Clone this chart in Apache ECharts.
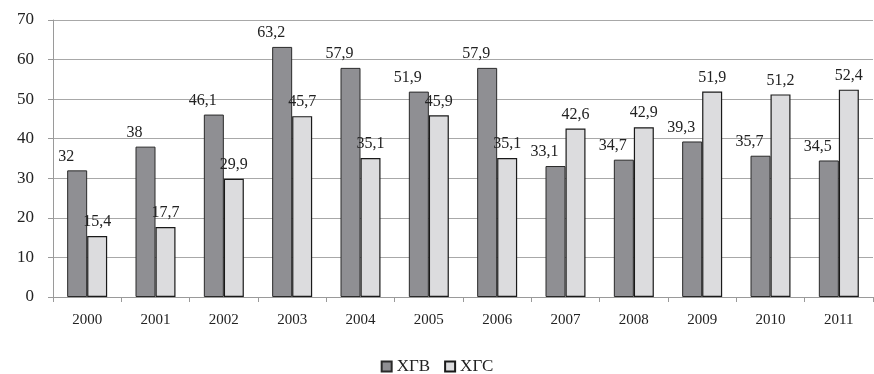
<!DOCTYPE html>
<html>
<head>
<meta charset="utf-8">
<script src="https://cdn.jsdelivr.net/npm/echarts@6/dist/echarts.min.js"></script>
<style>
  html, body { margin: 0; padding: 0; background: #ffffff; }
  #chart { width: 874px; height: 374px; }
</style>
</head>
<body>
<div id="chart"></div>
<script>
// Years on the category axis
const years = ['2000', '2001', '2002', '2003', '2004', '2005', '2006', '2007', '2008', '2009', '2010', '2011'];

// Series names
const nameHGV = 'ХГВ';
const nameHGS = 'ХГС';

// Values per year
const valuesHGV = [32, 38, 46.1, 63.2, 57.9, 51.9, 57.9, 33.1, 34.7, 39.3, 35.7, 34.5];
const valuesHGS = [15.4, 17.7, 29.9, 45.7, 35.1, 45.9, 35.1, 42.6, 42.9, 51.9, 51.2, 52.4];

// Value axis range
const yMin = 0;
const yMax = 70;
const yStep = 10;

const serif = '"Liberation Serif", "Times New Roman", serif';
const fmtComma = p => String(p.value).replace('.', ',');

const chart = echarts.init(document.getElementById('chart'), null, { renderer: 'canvas' });

chart.setOption({
  animation: false,
  backgroundColor: '#ffffff',
  textStyle: { fontFamily: serif },
  grid: { left: 53, right: 1, top: 20, bottom: 77, containLabel: false },
  legend: {
    data: [nameHGV, nameHGS],
    left: 'center',
    top: 358,
    padding: 0,
    icon: 'rect',
    itemWidth: 10,
    itemHeight: 10,
    itemGap: 14,
    textStyle: { fontFamily: serif, fontSize: 17, color: '#222' }
  },
  xAxis: {
    type: 'category',
    data: years,
    boundaryGap: true,
    axisLine: { lineStyle: { color: '#9a9a9a', width: 1 } },
    axisTick: { show: true, length: 5, lineStyle: { color: '#9a9a9a' } },
    axisLabel: { fontFamily: serif, fontSize: 15, color: '#222', margin: 16 }
  },
  yAxis: {
    type: 'value',
    min: yMin,
    max: yMax,
    interval: yStep,
    axisLine: { show: true, lineStyle: { color: '#9a9a9a', width: 1 } },
    axisTick: { show: true, length: 5, lineStyle: { color: '#9a9a9a' } },
    splitLine: { lineStyle: { color: '#a8a8a8', width: 1 } },
    axisLabel: { fontFamily: serif, fontSize: 17, color: '#222', margin: 19 }
  },
  series: [
    {
      name: nameHGV,
      type: 'bar',
      data: valuesHGV,
      barWidth: 20,
      barGap: '0%',
      itemStyle: { color: '#8f8f93', borderColor: '#2a2a2a', borderWidth: 1 },
      label: {
        show: true,
        position: 'top',
        distance: 6,
        offset: [-11, 0],
        formatter: fmtComma,
        fontFamily: serif,
        fontSize: 16,
        color: '#222'
      }
    },
    {
      name: nameHGS,
      type: 'bar',
      data: valuesHGS,
      barWidth: 20,
      barGap: '0%',
      itemStyle: { color: '#dcdcde', borderColor: '#1a1a1a', borderWidth: 1.2 },
      label: {
        show: true,
        position: 'top',
        distance: 6,
        formatter: fmtComma,
        fontFamily: serif,
        fontSize: 16,
        color: '#222'
      }
    }
  ]
});
</script>
</body>
</html>
